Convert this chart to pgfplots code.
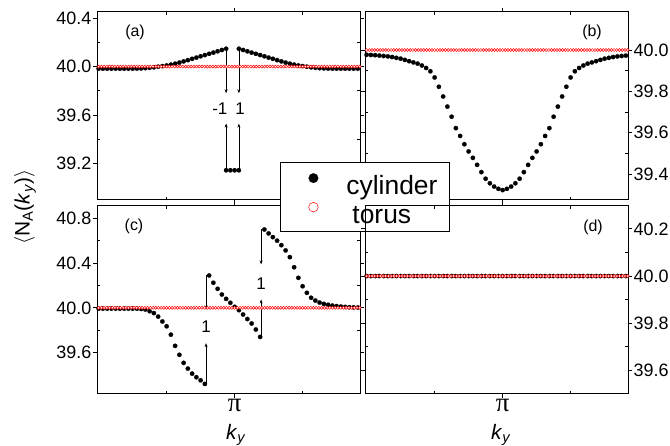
\documentclass[border=0pt]{standalone}
\usepackage{pgfplots}
\pgfplotsset{compat=1.18}
\usepackage{pgfplotstable}
\usepackage{fontspec}
\setmainfont{Liberation Sans}
\newfontfamily\pifont{Liberation Serif}
\usetikzlibrary{arrows.meta}

% cylinder data for panels (b), (c), (d)
\pgfplotstableread{
x b c d
0 39.977 39.993 40
0.03125 39.976 39.993 40
0.0625 39.975 39.993 40
0.09375 39.973 39.993 40
0.125 39.971 39.993 40
0.15625 39.969 39.993 40
0.1875 39.966 39.993 40
0.21875 39.962 39.993 40
0.25 39.958 39.993 40
0.28125 39.952 39.993 40
0.3125 39.946 39.990 40
0.34375 39.940 39.985 40
0.375 39.934 39.970 40
0.40625 39.925 39.953 40
0.4375 39.913 39.922 40
0.46875 39.897 39.878 40
0.5 39.867 39.835 40
0.53125 39.822 39.760 40
0.5625 39.775 39.660 40
0.59375 39.726 39.580 40
0.625 39.677 39.508 40
0.65625 39.622 39.457 40
0.6875 39.584 39.412 40
0.71875 39.544 39.380 40
0.75 39.509 39.352 40
0.78125 39.478 39.320 40
0.8125 39.444 40.289 40
0.84375 39.409 40.224 40
0.875 39.377 40.170 40
0.90625 39.355 40.119 40
0.9375 39.339 40.080 40
0.96875 39.328 40.045 40
1.0 39.322 40.009 40
1.03125 39.328 39.979 40
1.0625 39.339 39.940 40
1.09375 39.355 39.900 40
1.125 39.377 39.860 40
1.15625 39.409 39.806 40
1.1875 39.444 39.740 40
1.21875 39.478 40.700 40
1.25 39.509 40.665 40
1.28125 39.544 40.632 40
1.3125 39.584 40.600 40
1.34375 39.622 40.560 40
1.375 39.677 40.513 40
1.40625 39.726 40.453 40
1.4375 39.775 40.363 40
1.46875 39.822 40.268 40
1.5 39.867 40.193 40
1.53125 39.897 40.134 40
1.5625 39.913 40.090 40
1.59375 39.925 40.065 40
1.625 39.934 40.047 40
1.65625 39.940 40.035 40
1.6875 39.946 40.027 40
1.71875 39.952 40.020 40
1.75 39.958 40.015 40
1.78125 39.962 40.011 40
1.8125 39.966 40.008 40
1.84375 39.969 40.006 40
1.875 39.971 40.004 40
1.90625 39.973 40.003 40
}\cyl

% cylinder data for panel (a)
\pgfplotstableread{
x y
0 39.983
0.03125 39.983
0.0625 39.983
0.09375 39.983
0.125 39.983
0.15625 39.983
0.1875 39.983
0.21875 39.983
0.25 39.983
0.28125 39.984
0.3125 39.985
0.34375 39.987
0.375 39.990
0.40625 39.994
0.4375 39.999
0.46875 40.004
0.5 40.009
0.53125 40.016
0.5625 40.024
0.59375 40.033
0.625 40.043
0.65625 40.053
0.6875 40.064
0.71875 40.074
0.75 40.085
0.78125 40.095
0.8125 40.105
0.84375 40.115
0.875 40.126
0.90625 40.137
0.9375 40.147
0.9375 39.145
0.96875 39.145
1.0 39.145
1.03125 39.145
1.03125 40.147
1.0625 40.137
1.09375 40.126
1.125 40.115
1.15625 40.105
1.1875 40.095
1.21875 40.085
1.25 40.074
1.28125 40.064
1.3125 40.053
1.34375 40.043
1.375 40.033
1.40625 40.024
1.4375 40.016
1.46875 40.009
1.5 40.004
1.53125 39.999
1.5625 39.994
1.59375 39.990
1.625 39.987
1.65625 39.985
1.6875 39.984
1.71875 39.983
1.75 39.983
1.78125 39.983
1.8125 39.983
1.84375 39.983
1.875 39.983
1.90625 39.983
}\cyla

% torus data (all panels)
\pgfplotstableread[row sep=\\]{
x y\\
0 40\\ 0.02 40\\ 0.04 40\\ 0.06 40\\ 0.08 40\\ 0.1 40\\ 0.12 40\\ 0.14 40\\ 0.16 40\\ 0.18 40\\
0.2 40\\ 0.22 40\\ 0.24 40\\ 0.26 40\\ 0.28 40\\ 0.3 40\\ 0.32 40\\ 0.34 40\\ 0.36 40\\ 0.38 40\\
0.4 40\\ 0.42 40\\ 0.44 40\\ 0.46 40\\ 0.48 40\\ 0.5 40\\ 0.52 40\\ 0.54 40\\ 0.56 40\\ 0.58 40\\
0.6 40\\ 0.62 40\\ 0.64 40\\ 0.66 40\\ 0.68 40\\ 0.7 40\\ 0.72 40\\ 0.74 40\\ 0.76 40\\ 0.78 40\\
0.8 40\\ 0.82 40\\ 0.84 40\\ 0.86 40\\ 0.88 40\\ 0.9 40\\ 0.92 40\\ 0.94 40\\ 0.96 40\\ 0.98 40\\
1.0 40\\ 1.02 40\\ 1.04 40\\ 1.06 40\\ 1.08 40\\ 1.1 40\\ 1.12 40\\ 1.14 40\\ 1.16 40\\ 1.18 40\\
1.2 40\\ 1.22 40\\ 1.24 40\\ 1.26 40\\ 1.28 40\\ 1.3 40\\ 1.32 40\\ 1.34 40\\ 1.36 40\\ 1.38 40\\
1.4 40\\ 1.42 40\\ 1.44 40\\ 1.46 40\\ 1.48 40\\ 1.5 40\\ 1.52 40\\ 1.54 40\\ 1.56 40\\ 1.58 40\\
1.6 40\\ 1.62 40\\ 1.64 40\\ 1.66 40\\ 1.68 40\\ 1.7 40\\ 1.72 40\\ 1.74 40\\ 1.76 40\\ 1.78 40\\
1.8 40\\ 1.82 40\\ 1.84 40\\ 1.86 40\\ 1.88 40\\ 1.9 40\\ 1.92 40\\
}\torus

\tikzset{arr/.style={-{Stealth[length=4bp, width=3bp]}, line width=0.5bp, black}}

\pgfplotsset{
  panel/.style={
    scale only axis, width=263bp, height=188bp,
    xmin=-0.012, xmax=1.922,
    xtick={1}, minor xtick={0.5,1.5},
    minor y tick num=1,
    axis line style={line width=1bp},
    tick style={line width=0.8bp, black},
    tick align=outside,
    major tick length=4bp, minor tick length=-3bp,
    yticklabel style={font=\fontsize{18}{18}\selectfont, inner sep=1.5bp},
    xticklabel style={font=\pifont\fontsize{27}{27}\selectfont, inner sep=1bp},
    /pgf/number format/fixed,
    /pgf/number format/fixed zerofill,
    /pgf/number format/precision=1,
    /pgf/number format/assume math mode=true,
  },
  cyl/.style={only marks, mark=*, mark size=2.2bp, black,
    mark options={fill=black, draw=black, line width=0.2bp}},
  tor/.style={only marks, mark=*, mark size=1.5bp, red,
    mark options={fill=white, draw=red, line width=0.5bp}},
}

\begin{document}
\begin{tikzpicture}
\useasboundingbox (0,0) rectangle (670bp,446bp);

% (a)
\begin{axis}[panel, at={(97bp,246bp)}, anchor=south west,
  ymin=38.9, ymax=40.45, ytick={39.2,39.6,40.0,40.4}, xticklabels={}]
  \addplot[cyl] table[x=x, y=y] {\cyla};
  \addplot[tor] table[x=x, y=y] {\torus};
  \draw[arr] (axis cs:0.9375,40.147) -- (axis cs:0.9375,39.78);
  \draw[arr] (axis cs:0.9375,39.145) -- (axis cs:0.9375,39.53);
  \draw[arr] (axis cs:1.03125,40.147) -- (axis cs:1.03125,39.78);
  \draw[arr] (axis cs:1.03125,39.145) -- (axis cs:1.03125,39.53);
  \node[font=\fontsize{17}{17}\selectfont, anchor=east, inner sep=0.5bp] at (axis cs:0.952,39.655) {-1};
  \node[font=\fontsize{17}{17}\selectfont, inner sep=0pt] at (axis cs:1.04,39.655) {1};
\end{axis}

% (b)
\begin{axis}[panel, at={(365bp,246bp)}, anchor=south west,
  ymin=39.274, ymax=40.184, ytick={39.4,39.6,39.8,40.0},
  yticklabel pos=right, xticklabels={}]
  \addplot[cyl] table[x=x, y=b] {\cyl};
  \addplot[tor] table[x=x, y=y] {\torus};
\end{axis}

% (c)
\begin{axis}[panel, at={(97bp,52bp)}, anchor=south west,
  ymin=39.23, ymax=40.91, ytick={39.6,40.0,40.4,40.8},
  xticklabels={π},
  legend style={at={(0.696,1.2356)}, anchor=north west,
    draw=black, line width=0.8bp, fill=white,
    font=\fontsize{26.5}{26.5}\selectfont,
    inner xsep=12bp, inner ysep=4bp, row sep=-3bp,
    nodes={inner sep=0bp, text height=20bp, text depth=4bp}},
  legend cell align=left,
  legend image code/.code={
    \path[draw=none, fill=none] (0bp,-4bp) rectangle (54bp,20bp);
    \draw[#1, mark size=4.8bp] plot coordinates {(21bp,8bp)};
  }]
  \addplot[cyl] table[x=x, y=c] {\cyl};
  \addlegendentry{cylinder}
  \addplot[tor] table[x=x, y=y] {\torus};
  \addlegendentry{\hspace{6bp}torus}
  \draw[arr] (axis cs:0.79,39.32) -- (axis cs:0.79,39.684);
  \draw[arr] (axis cs:0.79,40.289) -- (axis cs:0.79,39.985);
  \node[font=\fontsize{17}{17}\selectfont, inner sep=0pt] at (axis cs:0.79,39.83) {1};
  \draw[arr] (axis cs:1.195,40.70) -- (axis cs:1.195,40.388);
  \draw[arr] (axis cs:1.195,39.74) -- (axis cs:1.195,40.075);
  \node[font=\fontsize{17}{17}\selectfont, inner sep=0pt] at (axis cs:1.195,40.22) {1};
\end{axis}

% (d)
\begin{axis}[panel, at={(365bp,52bp)}, anchor=south west,
  ymin=39.5, ymax=40.297, ytick={39.6,39.8,40.0,40.2},
  yticklabel pos=right, xticklabels={π}]
  \addplot[cyl] table[x=x, y=d] {\cyl};
  \addplot[tor] table[x=x, y=y] {\torus};
\end{axis}

% panel labels
\node[font=\fontsize{16}{16}\selectfont] at (135bp,414bp) {(a)};
\node[font=\fontsize{16}{16}\selectfont] at (592bp,414bp) {(b)};
\node[font=\fontsize{16}{16}\selectfont] at (134bp,220bp) {(c)};
\node[font=\fontsize{16}{16}\selectfont] at (593bp,219bp) {(d)};

% axis labels
\node[rotate=90, font=\fontsize{21}{21}\selectfont] at (25bp,239bp)
  {$\langle$N\textsubscript{A}(\textit{k}\textsubscript{\textit{y}})$\rangle$};
\node[anchor=base, font=\fontsize{21}{21}\selectfont] at (236bp,7bp)
  {\textit{k}\textsubscript{\textit{y}}};
\node[anchor=base, font=\fontsize{21}{21}\selectfont] at (501bp,7bp)
  {\textit{k}\textsubscript{\textit{y}}};
\end{tikzpicture}
\end{document}
